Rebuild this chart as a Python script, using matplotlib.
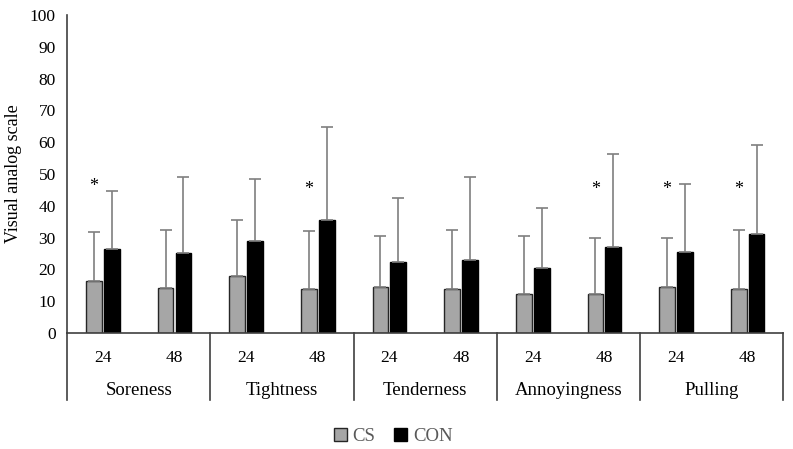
import matplotlib
matplotlib.use('Agg')
import matplotlib.pyplot as plt
from matplotlib.patches import Patch
import numpy as np

plt.rcParams['font.family'] = ['Liberation Serif', 'DejaVu Serif']

groups = ['Soreness', 'Tightness', 'Tenderness', 'Annoyingness', 'Pulling']
times = ['24', '48']
cs_mean = [16.5, 14.2, 17.8, 13.7, 14.6, 13.7, 12.4, 12.3, 14.6, 13.7]
cs_sd = [15.2, 18.3, 17.6, 18.5, 15.8, 18.8, 18.1, 17.6, 15.4, 18.6]
con_mean = [26.3, 25.2, 28.9, 35.4, 22.4, 22.8, 20.4, 27.1, 25.4, 31.2]
con_sd = [18.2, 23.8, 19.4, 29.3, 20.2, 26.2, 18.9, 29.1, 21.6, 28.0]
star = [True, False, False, True, False, False, False, True, True, True]
star_y = [46, 0, 0, 45, 0, 0, 0, 45, 45, 45]

fig = plt.figure(figsize=(7.93, 4.49), dpi=100)
ax = fig.add_axes([0.0845, 0.2584, 0.9035, 0.7082])

n = len(cs_mean)
x = np.arange(n)
w = 0.22
gap = 0.03
err_kw = dict(ecolor='#7f7f7f', elinewidth=1.2, capsize=4, capthick=1.2)

ax.bar(x - w/2 - gap/2, cs_mean, w, color='#a6a6a6', edgecolor='#262626', lw=1.0,
       yerr=[np.zeros(n), cs_sd], error_kw=err_kw, label='CS')
ax.bar(x + w/2 + gap/2, con_mean, w, color='black', edgecolor='black', lw=1.0,
       yerr=[np.zeros(n), con_sd], error_kw=err_kw, label='CON')

for i in range(n):
    if star[i]:
        ax.text(x[i] - w/2 - gap/2, star_y[i], '*', ha='center', va='center', fontsize=13)

ax.set_xlim(-0.5, n - 0.5)
ax.set_ylim(0, 100)
ax.set_yticks(np.arange(0, 101, 10))
ax.tick_params(axis='y', length=0, labelsize=12.5, pad=8)
ax.tick_params(axis='x', length=0, labelsize=12.5, pad=12)
ax.set_xticks(x)
ax.set_xticklabels(times * len(groups))
ax.set_ylabel('Visual analog scale', fontsize=13, labelpad=6)

for s in ['top', 'right']:
    ax.spines[s].set_visible(False)
for s in ['left', 'bottom']:
    ax.spines[s].set_color('#404040')
    ax.spines[s].set_linewidth(1.2)

trans = ax.get_xaxis_transform()
for g in range(len(groups) + 1):
    xb = g * 2 - 0.5
    ax.plot([xb, xb], [0, -0.21], transform=trans, color='#404040', lw=1.2, clip_on=False)
for g, name in enumerate(groups):
    ax.text(g * 2 + 0.5, -0.18, name, transform=trans, ha='center', va='center', fontsize=13.5)

leg = ax.legend(handles=[Patch(facecolor='#a6a6a6', edgecolor='#262626', label='CS'),
                         Patch(facecolor='black', edgecolor='black', label='CON')],
                loc='upper center', bbox_to_anchor=(0.455, -0.245), ncol=2, frameon=False,
                fontsize=13.5, handlelength=0.7, handleheight=0.7, handletextpad=0.3,
                columnspacing=1.0)
for t in leg.get_texts():
    t.set_color('#595959')

fig.savefig('out.png', dpi=100)
